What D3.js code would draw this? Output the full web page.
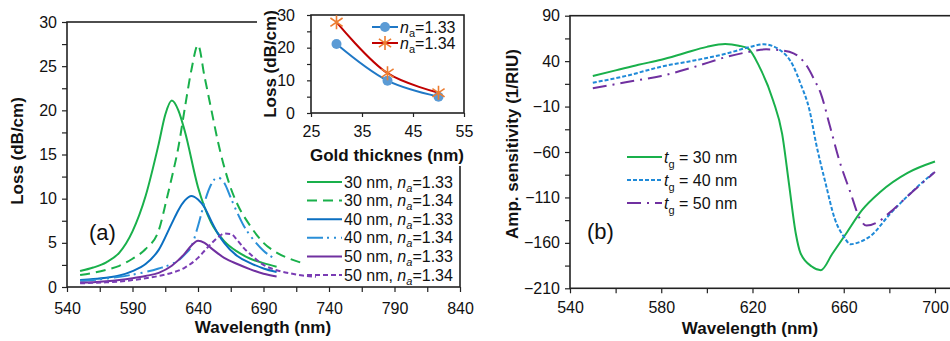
<!DOCTYPE html>
<html>
<head>
<meta charset="utf-8">
<script src="https://cdn.jsdelivr.net/npm/d3@7"></script>
<style>
body { margin: 0; background: #fff; }
text { font-family: 'Liberation Sans', Arial, sans-serif; fill: #111; }
</style>
</head>
<body>
<div class="chart"></div>
<script>
// ---- panel (a): loss spectra ----
let wl30a = [550,560,570,580,590,600,610,615,620,625,630,640,650,660,670,680,690,700];
let loss30a = [1.8,2.2,2.8,3.9,6.3,10.3,16.2,19.5,21.1,20.0,17.6,11.3,7.3,5.2,4.0,3.2,2.7,2.3];
let wl30b = [550,560,570,580,590,600,610,616,620,625,630,635,640,645,650,655,660,665,670,680,690,700,710,720];
let loss30b = [1.35,1.6,1.95,2.4,3.2,4.3,6.4,9.9,12.4,15.8,20.3,24.6,27.4,23.8,20.2,16.6,13.6,11.2,9.4,6.9,5.0,3.9,3.2,2.7];
let wl40a = [550,560,570,580,590,600,610,620,625,630,635,640,645,650,655,660,670,680,690,700];
let loss40a = [0.8,0.9,1.05,1.3,1.8,2.6,4.2,7.2,8.7,9.8,10.3,9.9,9.0,7.5,6.1,5.0,3.5,2.7,2.1,1.7];
let wl40b = [550,560,570,580,590,600,610,620,625,630,635,640,645,650,655,660,665,670,675,680,690,700];
let loss40b = [0.7,0.8,0.95,1.15,1.4,1.7,2.1,2.6,3.0,3.7,4.6,6.9,9.6,11.6,12.4,11.8,10.1,8.4,6.9,5.8,4.1,3.1];
let wl50a = [550,560,570,580,590,600,610,620,630,635,640,645,650,660,670,680,690,700];
let loss50a = [0.5,0.55,0.65,0.8,1.0,1.25,1.6,2.4,3.8,4.7,5.25,5.0,4.4,3.3,2.6,2.0,1.5,1.2];
let wl50b = [550,560,570,580,590,600,610,620,630,640,645,650,655,660,665,670,675,680,690,700,710,720,730];
let loss50b = [0.42,0.47,0.53,0.62,0.78,0.98,1.25,1.6,2.2,3.3,4.1,4.9,5.6,6.05,6.0,5.3,4.4,3.7,2.5,1.9,1.55,1.3,1.15];
let lossLabels = [['30 nm, ', '1.33'], ['30 nm, ', '1.34'], ['40 nm, ', '1.33'], ['40 nm, ', '1.34'], ['50 nm, ', '1.33'], ['50 nm, ', '1.34']];

// inset: loss vs gold thickness
let thick = [30, 40, 50];
let loss133 = [21.1, 9.9, 5.0];
let loss134 = [27.8, 12.2, 6.2];

// ---- panel (b): amplitude sensitivity ----
let wlS30 = [550,560,570,580,590,600,608,614,618,623,629,633,636,639,641,646,650,655,661,668,676,688,700];
let sens30 = [23.7,29.8,36,41.5,48.6,55.7,58.8,57,54,34,-3,-40,-95,-150,-171,-186,-190,-172,-150,-124,-104,-83,-70.5];
let wlS40 = [550,565,580,595,609,618,625,632,638,641,645,648,652,656,660,663,667,672,680,690,700];
let sens40 = [16.3,24,33.9,41,48.6,55,58.5,52.3,34,15.6,-14,-52,-94,-133,-153,-161.5,-159,-152,-129,-103.6,-81.6];
let wlS50 = [550,565,580,595,609,618,626,632,638,644,647,650,654,658,663,667,670,675,680,690,700];
let sens50 = [10.1,17,23.7,34,44.9,50,53,52,48.6,34,20,4,-32,-68.7,-105,-133,-141,-137,-127,-104,-82];
let sensLabels = ['30', '40', '50'];

let green = '#19b04b', blue = '#0b6fc1', lblue = '#2a8fd8', purple = '#7030a0';

let svg = d3.select('.chart')
	.append('svg')
	.attr('width', 950)
	.attr('height', 341);

let zip = (xs, ys) => xs.map((x, i) => [x, ys[i]]);

function styleAxis(g, size) {
	g.select('.domain').remove();
	g.selectAll('line').attr('stroke', '#222').attr('stroke-width', 1.2);
	g.selectAll('text').style('font-size', size + 'px').style('font-family', "'Liberation Sans', Arial, sans-serif");
}

function frame(x0, y0, x1, y1) {
	svg.append('rect')
		.attr('x', x0).attr('y', y0)
		.attr('width', x1 - x0).attr('height', y1 - y0)
		.attr('fill', 'none')
		.attr('stroke', '#222')
		.attr('stroke-width', 1.6);
}

// ===== panel (a) =====
let xA = d3.scaleLinear().domain([540, 840]).range([67, 460]);
let yA = d3.scaleLinear().domain([0, 30]).range([287, 22]);

svg.append('g')
	.attr('transform', 'translate(0,287)')
	.call(d3.axisBottom(xA).tickValues(d3.range(565, 840, 50)).tickSize(5).tickFormat(''))
	.call(g => styleAxis(g, 16));
svg.append('g')
	.attr('transform', 'translate(0,287)')
	.call(d3.axisBottom(xA).tickValues(d3.range(540, 841, 50)).tickSize(5).tickPadding(11))
	.call(g => styleAxis(g, 16));
svg.append('g')
	.attr('transform', 'translate(67,0)')
	.call(d3.axisLeft(yA).tickValues(d3.range(2.5, 30, 5)).tickSize(5).tickFormat(''))
	.call(g => styleAxis(g, 16));
svg.append('g')
	.attr('transform', 'translate(67,0)')
	.call(d3.axisLeft(yA).tickValues(d3.range(0, 31, 5)).tickSize(5).tickPadding(5))
	.call(g => styleAxis(g, 16));
frame(67, 22, 460, 287);

let lineA = d3.line()
	.x(d => xA(d[0]))
	.y(d => yA(d[1]))
	.curve(d3.curveMonotoneX);

let seriesA = [
	{data: zip(wl30a, loss30a), color: green, dash: null},
	{data: zip(wl30b, loss30b), color: green, dash: '10,6'},
	{data: zip(wl40a, loss40a), color: blue, dash: null},
	{data: zip(wl40b, loss40b), color: lblue, dash: '16,4,2,5,2,5'},
	{data: zip(wl50a, loss50a), color: purple, dash: null},
	{data: zip(wl50b, loss50b), color: '#7a3cb4', dash: '5,3'}
];

seriesA.forEach(s => {
	svg.append('path')
		.attr('d', lineA(s.data))
		.attr('fill', 'none')
		.attr('stroke', s.color)
		.attr('stroke-width', 2)
		.attr('stroke-dasharray', s.dash);
});

svg.append('text')
	.attr('x', 89).attr('y', 240)
	.style('font-size', '22px')
	.text('(a)');

svg.append('text')
	.attr('transform', 'translate(23,151) rotate(-90)')
	.attr('text-anchor', 'middle')
	.style('font-size', '17px').style('font-weight', 'bold')
	.text('Loss (dB/cm)');
svg.append('text')
	.attr('x', 263).attr('y', 333)
	.attr('text-anchor', 'middle')
	.style('font-size', '17px').style('font-weight', 'bold')
	.text('Wavelength (nm)');

// legend (a)
seriesA.forEach((s, i) => {
	let ly = 182 + i * 18.6;
	svg.append('line')
		.attr('x1', 307).attr('x2', 342)
		.attr('y1', ly).attr('y2', ly)
		.attr('stroke', s.color)
		.attr('stroke-width', 2)
		.attr('stroke-dasharray', s.dash);
	let t = svg.append('text')
		.attr('x', 344).attr('y', ly + 5.5)
		.style('font-size', '16px');
	t.append('tspan').text(lossLabels[i][0]);
	t.append('tspan').style('font-style', 'italic').text('n');
	t.append('tspan').style('font-style', 'italic').style('font-size', '11px').attr('dy', 4).text('a');
	t.append('tspan').attr('dy', -4).text('=' + lossLabels[i][1]);
});

// ===== inset =====
svg.append('rect')
	.attr('x', 257).attr('y', 0)
	.attr('width', 215).attr('height', 166)
	.attr('fill', '#fff');

let xI = d3.scaleLinear().domain([25, 55]).range([311, 464]);
let yI = d3.scaleLinear().domain([0, 30]).range([113, 15]);

svg.append('g')
	.attr('transform', 'translate(0,113)')
	.call(d3.axisBottom(xI).tickValues([25, 35, 45, 55]).tickSize(4).tickPadding(9))
	.call(g => styleAxis(g, 16));
svg.append('g')
	.attr('transform', 'translate(311,0)')
	.call(d3.axisLeft(yI).tickValues([5, 15, 25]).tickSize(4).tickFormat(''))
	.call(g => styleAxis(g, 16));
svg.append('g')
	.attr('transform', 'translate(311,0)')
	.call(d3.axisLeft(yI).tickValues([0, 10, 20, 30]).tickSize(4).tickPadding(12))
	.call(g => styleAxis(g, 16));
frame(311, 15, 464, 113);

let lineI = d3.line()
	.x(d => xI(d[0]))
	.y(d => yI(d[1]))
	.curve(d3.curveCatmullRom);

function star(g, cx, cy) {
	let r = 7;
	g.append('path')
		.attr('d', 'M' + cx + ',' + (cy - r) + 'V' + (cy + r) +
			'M' + (cx - r * 0.87) + ',' + (cy - r * 0.6) + 'L' + (cx + r * 0.87) + ',' + (cy + r * 0.6) +
			'M' + (cx - r * 0.87) + ',' + (cy + r * 0.6) + 'L' + (cx + r * 0.87) + ',' + (cy - r * 0.6))
		.attr('stroke', '#ed7d31')
		.attr('stroke-width', 1.6)
		.attr('fill', 'none');
}

svg.append('path')
	.attr('d', lineI(zip(thick, loss133)))
	.attr('fill', 'none').attr('stroke', '#1f78c6').attr('stroke-width', 2);
svg.append('path')
	.attr('d', lineI(zip(thick, loss134)))
	.attr('fill', 'none').attr('stroke', '#c00000').attr('stroke-width', 2);
thick.forEach((t, i) => {
	svg.append('circle')
		.attr('cx', xI(t)).attr('cy', yI(loss133[i])).attr('r', 5)
		.attr('fill', '#5b9bd5');
	star(svg, xI(t), yI(loss134[i]));
});

// inset legend
[['1.33', '#1f78c6'], ['1.34', '#c00000']].forEach((d, i) => {
	let ly = 27 + i * 16;
	svg.append('line')
		.attr('x1', 372).attr('x2', 398)
		.attr('y1', ly).attr('y2', ly)
		.attr('stroke', d[1]).attr('stroke-width', 2);
	if (i === 0) {
		svg.append('circle').attr('cx', 385).attr('cy', ly).attr('r', 5).attr('fill', '#5b9bd5');
	} else {
		star(svg, 385, ly);
	}
	let t = svg.append('text')
		.attr('x', 400).attr('y', ly + 5.5)
		.style('font-size', '16px');
	t.append('tspan').style('font-style', 'italic').text('n');
	t.append('tspan').style('font-size', '11px').attr('dy', 4).text('a');
	t.append('tspan').attr('dy', -4).text('=' + d[0]);
});

svg.append('text')
	.attr('transform', 'translate(276,64) rotate(-90)')
	.attr('text-anchor', 'middle')
	.style('font-size', '17px').style('font-weight', 'bold')
	.text('Loss (dB/cm)');
svg.append('text')
	.attr('x', 387).attr('y', 161)
	.attr('text-anchor', 'middle')
	.style('font-size', '17px').style('font-weight', 'bold')
	.text('Gold thicknes (nm)');

// ===== panel (b) =====
let xB = d3.scaleLinear().domain([540, 720]).range([570, 980.6]);
let yB = d3.scaleLinear().domain([-210, 90]).range([288.3, 15.7]);

svg.append('g')
	.attr('transform', 'translate(0,288.3)')
	.call(d3.axisBottom(xB).tickValues(d3.range(560, 701, 40)).tickSize(5).tickFormat(''))
	.call(g => styleAxis(g, 16));
svg.append('g')
	.attr('transform', 'translate(0,288.3)')
	.call(d3.axisBottom(xB).tickValues(d3.range(540, 701, 40)).tickSize(5).tickPadding(8))
	.call(g => styleAxis(g, 16));
svg.append('g')
	.attr('transform', 'translate(570,0)')
	.call(d3.axisLeft(yB).tickValues(d3.range(-185, 90, 50)).tickSize(5).tickFormat(''))
	.call(g => styleAxis(g, 16));
svg.append('g')
	.attr('transform', 'translate(570,0)')
	.call(d3.axisLeft(yB).tickValues(d3.range(-210, 91, 50)).tickSize(5).tickPadding(5))
	.call(g => styleAxis(g, 16));
frame(570, 15.7, 990, 288.3);

let lineB = d3.line()
	.x(d => xB(d[0]))
	.y(d => yB(d[1]))
	.curve(d3.curveMonotoneX);

let seriesB = [
	{data: zip(wlS30, sens30), color: green, dash: null},
	{data: zip(wlS40, sens40), color: '#1f8ad8', dash: '4,2'},
	{data: zip(wlS50, sens50), color: purple, dash: '14,6,2,6'}
];

seriesB.forEach(s => {
	svg.append('path')
		.attr('d', lineB(s.data))
		.attr('fill', 'none')
		.attr('stroke', s.color)
		.attr('stroke-width', 2)
		.attr('stroke-dasharray', s.dash);
});

seriesB.forEach((s, i) => {
	let ly = 157 + i * 23;
	svg.append('line')
		.attr('x1', 627).attr('x2', 662)
		.attr('y1', ly).attr('y2', ly)
		.attr('stroke', s.color)
		.attr('stroke-width', 2)
		.attr('stroke-dasharray', s.dash);
	let t = svg.append('text')
		.attr('x', 664).attr('y', ly + 5.5)
		.style('font-size', '16px');
	t.append('tspan').style('font-style', 'italic').text('t');
	t.append('tspan').style('font-size', '11px').attr('dy', 5).text('g');
	t.append('tspan').attr('dy', -5).text(' = ' + sensLabels[i] + ' nm');
});

svg.append('text')
	.attr('x', 587).attr('y', 239)
	.style('font-size', '22px')
	.text('(b)');

svg.append('text')
	.attr('transform', 'translate(518,144) rotate(-90)')
	.attr('text-anchor', 'middle')
	.style('font-size', '17px').style('font-weight', 'bold')
	.text('Amp. sensitivity (1/RIU)');
svg.append('text')
	.attr('x', 750).attr('y', 334)
	.attr('text-anchor', 'middle')
	.style('font-size', '17px').style('font-weight', 'bold')
	.text('Wavelength (nm)');
</script>
</body>
</html>
